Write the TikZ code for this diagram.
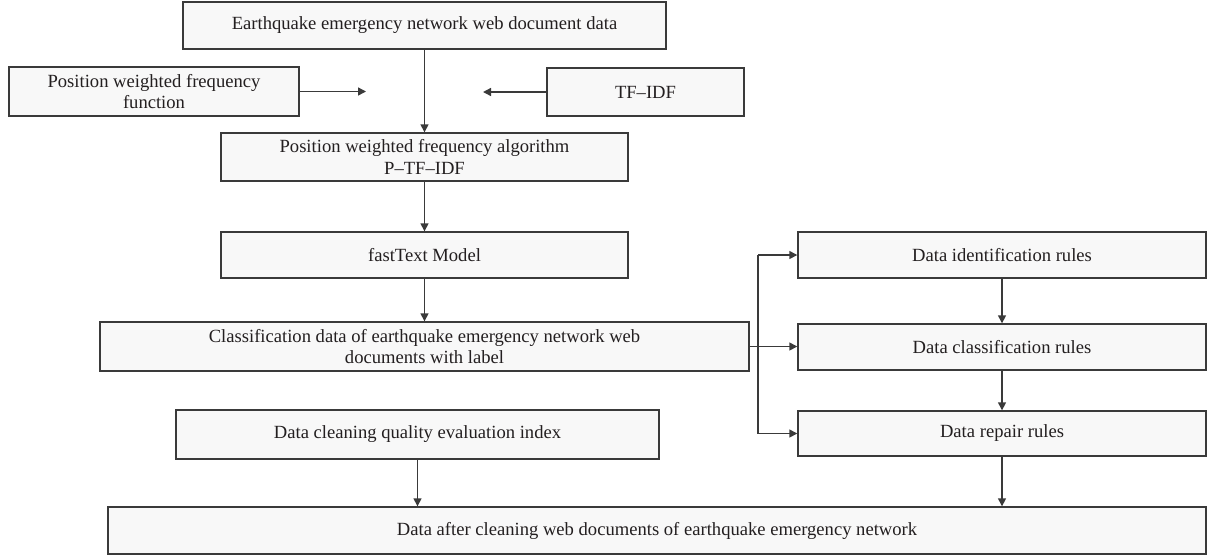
\documentclass[tikz,border=0pt]{standalone}
\usepackage{fontspec}
\setmainfont{Liberation Serif}
\usetikzlibrary{arrows.meta}
\definecolor{lineC}{HTML}{3A3A3A}
\definecolor{boxC}{HTML}{F8F8F8}
\definecolor{textC}{HTML}{231F20}
\begin{document}
\begin{tikzpicture}[x=0.5pt,y=-0.5pt,
  box/.style={draw=lineC, fill=boxC, line width=0.7pt, inner sep=0pt, align=center,
    font=\fontsize{9.3}{10.7}\selectfont, text=textC},
  arr/.style={draw=lineC, line width=0.7pt, -{Triangle[length=4pt,width=4pt]}},
  ln/.style={draw=lineC, line width=0.7pt}]
\useasboundingbox (0,0) rectangle (1208,559);

\node[box, minimum width=241.5pt, minimum height=23.5pt] (b1) at (424.5,25.5) {Earthquake emergency network web document data};
\node[box, minimum width=145pt, minimum height=24.5pt] (b2) at (154,91.5) {Position weighted frequency\\function};
\node[box, minimum width=98.5pt, minimum height=24pt] (b3) at (645.5,92) {TF–IDF};
\node[box, minimum width=203.5pt, minimum height=24pt] (b4) at (424.5,157) {Position weighted frequency algorithm\\P–TF–IDF};
\node[box, minimum width=203.5pt, minimum height=23pt] (b5) at (424.5,255) {fastText Model};
\node[box, minimum width=324.5pt, minimum height=24.5pt] (b6) at (424.5,346.5) {Classification data of earthquake emergency network web\\documents with label};
\node[box, minimum width=204pt, minimum height=23pt] (b7) at (1002,255) {Data identification rules};
\node[box, minimum width=204pt, minimum height=23pt] (b8) at (1002,347) {Data classification rules};
\node[box, minimum width=204pt, minimum height=22.5pt] (b9) at (1002,433.5) {Data repair rules};
\node[box, minimum width=241.5pt, minimum height=24.5pt] (b10) at (417.5,434.5) {Data cleaning quality evaluation index};
\node[box, minimum width=549pt, minimum height=23.5pt] (b11) at (657,530.5) {Data after cleaning web documents of earthquake emergency network};

\coordinate (ta) at (366,92);
\coordinate (tb) at (483,92);
\coordinate (br) at (758,347);

\draw[arr] (b1.south) -- (b4.north);
\draw[arr] (b2.east) -- (b2.east -| ta);
\draw[arr] (b3.west) -- (b3.west -| tb);
\draw[arr] (b4.south) -- (b5.north);
\draw[arr] (b5.south) -- (b6.north);
\draw[arr] (b6.east) -- (b6.east -| b8.west);
\draw[ln] (br |- b7.west) -- (br |- b9.west);
\draw[arr] (br |- b7.west) -- (b7.west);
\draw[arr] (br |- b9.west) -- (b9.west);
\draw[arr] (b7.south) -- (b8.north);
\draw[arr] (b8.south) -- (b9.north);
\draw[arr] (b9.south) -- (b9.south |- b11.north);
\draw[arr] (b10.south) -- (b10.south |- b11.north);
\end{tikzpicture}
\end{document}
